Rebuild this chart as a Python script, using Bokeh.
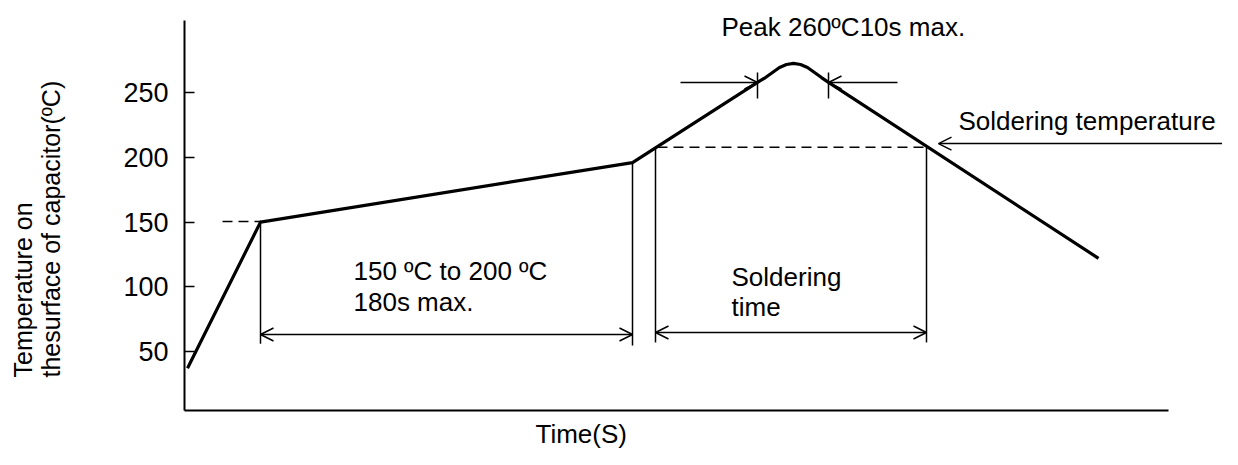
from bokeh.plotting import figure
from bokeh.models import Range1d, FixedTicker, Label, Arrow, OpenHead, ColumnDataSource
from bokeh.embed import file_html
from bokeh.resources import INLINE

# ---- data (time in s-like units, temperature in ºC) ----
profile_time = [1.5, 38, 224, 286.5, 290.5, 294, 297.5, 301, 304.5, 308, 311.5, 315, 318.5, 322, 457]
profile_temp = [37, 150, 196, 258, 261.7, 265.6, 269.5, 271.8, 272.6, 271.8, 269.5, 265.6, 261.7, 258, 122]

y_ticks = [50, 100, 150, 200, 250]
axis_time_span = (0, 492)
axis_temp_span = (4.4, 305.8)

# vertical guide lines
guide_x = [38, 224, 235.5, 371, 286.5, 322]
guide_top = [151, 196, 207.6, 207.6, 265.6, 265.6]
guide_bottom = [56, 54.6, 57, 57, 245.5, 245.5]

# dashed reference levels
dash_x0 = [19, 236.5]
dash_x1 = [38, 370.5]
dash_temp = [150.5, 207.8]

# double-headed dimension arrows
dim_x0 = [38, 235.5]
dim_x1 = [224, 371]
dim_y = [63.1, 64.7]

# single-headed pointer arrows (peak width markers + soldering temperature pointer)
ptr_x0 = [248, 356.5, 519]
ptr_x1 = [286.5, 322, 377]
ptr_y = [257.9, 257.9, 210.7]

# texts (data coordinates)
note_text = ["150 ºC to 200 ºC", "180s max.", "Soldering", "time",
             "Peak 260ºC10s max.", "Soldering temperature", "Time(S)"]
note_x = [84.5, 84.5, 273.5, 273.5, 268.5, 387, 175.5]
note_y = [111.9, 87.9, 107.5, 84.3, 300.4, 227.8, -13.5]

ylabel_lines = ["Temperature on", "thesurface of capacitor(ºC)"]
ylabel_x = [-81, -67]
ylabel_y = [29.9, 29.9]

FONT = "Liberation Sans"

p = figure(width=1222, height=449, x_range=Range1d(-92, 519), y_range=Range1d(-25.74, 321.25),
           output_backend="svg", toolbar_location=None,
           min_border_left=0, min_border_right=0, min_border_top=0, min_border_bottom=0)
p.grid.visible = False
p.outline_line_color = None

p.xaxis.fixed_location = axis_temp_span[0]
p.xaxis.ticker = FixedTicker(ticks=[])
p.xaxis.bounds = axis_time_span
p.xaxis.major_tick_line_color = None
p.xaxis.minor_tick_line_color = None
p.xaxis.axis_line_width = 2
p.xaxis.axis_line_color = "black"

p.yaxis.fixed_location = axis_time_span[0]
p.yaxis.ticker = FixedTicker(ticks=y_ticks)
p.yaxis.bounds = axis_temp_span
p.yaxis.major_tick_in = 10
p.yaxis.major_tick_out = 0
p.yaxis.minor_tick_line_color = None
p.yaxis.major_tick_line_width = 1.5
p.yaxis.major_tick_line_color = "black"
p.yaxis.axis_line_width = 2
p.yaxis.axis_line_color = "black"
p.yaxis.major_label_standoff = 16
p.yaxis.major_label_text_font = FONT
p.yaxis.major_label_text_font_size = "27px"
p.yaxis.major_label_text_color = "black"

# guides
p.segment(x0=guide_x, y0=guide_bottom, x1=guide_x, y1=guide_top, line_color="black", line_width=1.5)
p.segment(x0=dash_x0, y0=dash_temp, x1=dash_x1, y1=dash_temp, line_color="black", line_width=1.5,
          line_dash="10 6")

# profile curve
p.line(profile_time, profile_temp, line_color="black", line_width=3.2, line_join="round")

# arrows
dim_src = ColumnDataSource(dict(x0=dim_x0, x1=dim_x1, y=dim_y))
p.add_layout(Arrow(x_start="x0", y_start="y", x_end="x1", y_end="y", source=dim_src,
                   line_width=1.5, line_color="black",
                   start=OpenHead(size=13, line_width=1.5, line_color="black"),
                   end=OpenHead(size=13, line_width=1.5, line_color="black")))
ptr_src = ColumnDataSource(dict(x0=ptr_x0, x1=ptr_x1, y=ptr_y))
p.add_layout(Arrow(x_start="x0", y_start="y", x_end="x1", y_end="y", source=ptr_src,
                   line_width=1.5, line_color="black", start=None,
                   end=OpenHead(size=13, line_width=1.5, line_color="black")))

for t, x, y in zip(note_text, note_x, note_y):
    p.add_layout(Label(x=x, y=y, text=t, text_font=FONT, text_font_size="26px",
                       text_color="black", text_align="left", text_baseline="alphabetic"))

for t, x, y in zip(ylabel_lines, ylabel_x, ylabel_y):
    p.add_layout(Label(x=x, y=y, text=t, text_font=FONT, text_font_size="25px", angle=90,
                       angle_units="deg", text_color="black", text_align="left",
                       text_baseline="alphabetic"))

open("out.html", "w").write(file_html(p, INLINE))
